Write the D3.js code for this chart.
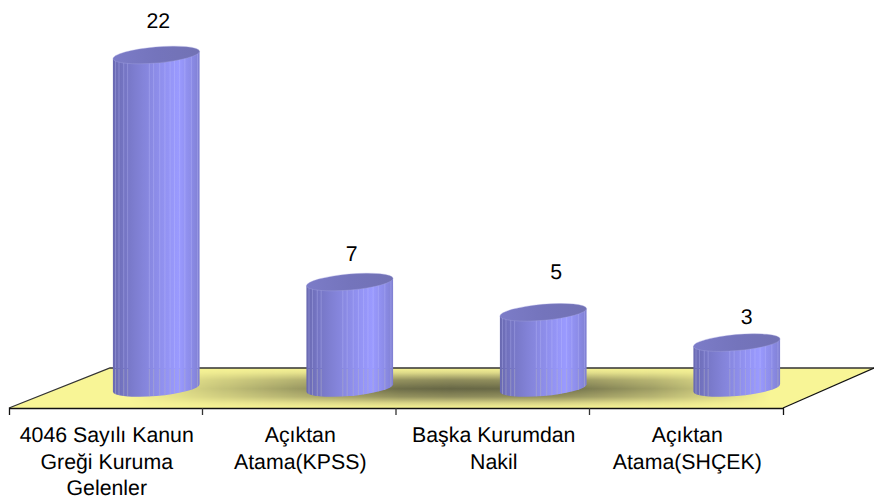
<!DOCTYPE html>
<html>
<head>
<meta charset="utf-8">
<script src="https://cdn.jsdelivr.net/npm/d3@7"></script>
<style>
html, body { margin: 0; padding: 0; background: #fff; }
svg { display: block; }
text { font-family: "Liberation Sans", Arial, sans-serif; font-size: 21.3px; fill: #000; text-rendering: geometricPrecision; }
</style>
</head>
<body>
<div id="chart"></div>
<script>
var categories = ["4046 Sayılı Kanun Greği Kuruma Gelenler", "Açıktan Atama(KPSS)", "Başka Kurumdan Nakil", "Açıktan Atama(SHÇEK)"];
var values = [22, 7, 5, 3];

// facet lines on the cylinders, as a fraction of the width
var facets = [0.03, 0.07, 0.125, 0.17, 0.42, 0.47, 0.54, 0.60, 0.66, 0.71, 0.77, 0.83, 0.905, 0.975];
// the value labels do not sit at a constant distance from the cylinder tops
var labelNudge = [[2, -34], [2, -29], [13, -41], [10, -26]];

var width = 874, height = 503;
var floorFront = 408, floorBack = 368, depthLeft = 101;
var rx = 43.5, ry = 8, tilt = -5;

var svg = d3.select("#chart").append("svg")
    .attr("width", width)
    .attr("height", height);

var x = d3.scaleBand().domain(categories).range([9, 783]);
var y = d3.scaleLinear().domain([0, 22]).range([388, 55]);

var defs = svg.append("defs");

function addStops(grad, stops) {
    grad.selectAll("stop")
        .data(stops)
        .enter().append("stop")
        .attr("offset", function(d) { return d[0]; })
        .attr("stop-color", function(d) { return d[1]; });
}

// Floor shading: a dark band across, faded out towards both ends
var band = defs.append("linearGradient")
    .attr("id", "floorBand")
    .attr("gradientUnits", "userSpaceOnUse")
    .attr("x1", 0).attr("x2", 0).attr("y1", floorBack).attr("y2", floorFront);
addStops(band, [[0, "#f8f596"], [0.12, "#dcd888"], [0.3, "#8f8d5c"], [0.52, "#666645"], [0.72, "#8f8d5c"], [0.87, "#d4d084"], [1, "#f8f596"]]);

var fade = defs.append("linearGradient")
    .attr("id", "floorFade")
    .attr("gradientUnits", "userSpaceOnUse")
    .attr("x1", 130).attr("x2", 770).attr("y1", 0).attr("y2", 0);
addStops(fade, [[0, "#000"], [0.12, "#4d4d4d"], [0.27, "#a6a6a6"], [0.42, "#f2f2f2"], [0.5, "#fff"], [0.67, "#f2f2f2"], [0.82, "#999"], [0.91, "#4d4d4d"], [1, "#000"]]);

defs.append("mask").attr("id", "floorMask")
    .attr("maskUnits", "userSpaceOnUse")
    .attr("x", 0).attr("y", 0).attr("width", width).attr("height", height)
    .append("rect")
    .attr("width", width).attr("height", height)
    .attr("fill", "url(#floorFade)");

addStops(defs.append("linearGradient").attr("id", "bodyFill"),
    [[0, "#6a6ab2"], [0.12, "#7474c2"], [0.35, "#8484da"], [0.6, "#9292f2"], [0.76, "#9a9aff"], [0.9, "#8c8ce8"], [1, "#8080d2"]]);

addStops(defs.append("linearGradient").attr("id", "lidFill"),
    [[0, "#7c7cc8"], [0.5, "#7474bc"], [1, "#7272b4"]]);

// Floor
var x0 = x.range()[0], x1 = x.range()[1];
var floorPath = "M" + x0 + "," + floorFront + "L" + (x0 + depthLeft) + "," + floorBack + "L" + width + "," + floorBack + "L" + x1 + "," + floorFront + "Z";
svg.append("path").attr("d", floorPath).attr("fill", "#f8f596");
svg.append("path").attr("d", floorPath).attr("fill", "url(#floorBand)").attr("mask", "url(#floorMask)");

svg.append("path")
    .attr("d", "M" + x0 + "," + floorFront + "L" + (x0 + depthLeft) + "," + floorBack + "L" + width + "," + floorBack)
    .attr("fill", "none").attr("stroke", "#333").attr("stroke-width", 1.3);
svg.append("path")
    .attr("d", "M" + width + "," + floorBack + "L" + x1 + "," + floorFront)
    .attr("fill", "none").attr("stroke", "#111").attr("stroke-width", 1.3);

// Add the X Axis
var xAxis = d3.axisBottom(x).tickSize(0).tickSizeOuter(7).tickPadding(19);
var axisG = svg.append("g")
    .attr("transform", "translate(0," + floorFront + ")")
    .call(xAxis);
axisG.select(".domain").attr("stroke", "#111").attr("stroke-width", 1.3);
axisG.selectAll(".tick text")
    .style("font-size", "21.3px")
    .style("font-family", '"Liberation Sans", Arial, sans-serif')
    .attr("fill", "#000")
    .call(wrap, x.bandwidth() - 8);

// inner ticks sit on the band edges
axisG.selectAll(".edge")
    .data(categories.slice(1))
    .enter().append("line")
    .attr("class", "edge")
    .attr("x1", function(d) { return x(d); })
    .attr("x2", function(d) { return x(d); })
    .attr("y1", 0).attr("y2", 7)
    .attr("stroke", "#333").attr("stroke-width", 1.3);

// side tangent points of the tilted ellipse
var th = tilt * Math.PI / 180;
var t = Math.atan2(-ry * Math.sin(th), rx * Math.cos(th));
var hw = rx * Math.cos(t) * Math.cos(th) - ry * Math.sin(t) * Math.sin(th);
var hh = rx * Math.cos(t) * Math.sin(th) + ry * Math.sin(t) * Math.cos(th);

function cx(i) { return x(categories[i]) + x.bandwidth() / 2 + 50.5; }

function bodyPath(i) {
    var c = cx(i), top = y(values[i]), base = y(0);
    return "M" + (c - hw) + "," + (top - hh)
        + "L" + (c - hw) + "," + (base - hh)
        + "A" + rx + "," + ry + " " + tilt + " 0 0 " + (c + hw) + "," + (base + hh)
        + "L" + (c + hw) + "," + (top + hh) + "Z";
}

values.forEach(function(v, i) {
    var g = svg.append("g");

    defs.append("clipPath").attr("id", "clip" + i)
        .append("path").attr("d", bodyPath(i));

    g.append("path").attr("d", bodyPath(i)).attr("fill", "url(#bodyFill)");

    var lines = g.append("g").attr("clip-path", "url(#clip" + i + ")");

    // upper part of the facets, light
    lines.selectAll(".up")
        .data(facets)
        .enter().append("line")
        .attr("x1", function(f) { return cx(i) - hw + f * 2 * hw; })
        .attr("x2", function(f) { return cx(i) - hw + f * 2 * hw; })
        .attr("y1", y(v) - 12)
        .attr("y2", floorBack)
        .attr("stroke", "#c8c8ff")
        .attr("stroke-opacity", 0.3)
        .attr("stroke-width", 1);

    // lower part, over the floor, greyer
    lines.selectAll(".low")
        .data(facets)
        .enter().append("line")
        .attr("x1", function(f) { return cx(i) - hw + f * 2 * hw; })
        .attr("x2", function(f) { return cx(i) - hw + f * 2 * hw; })
        .attr("y1", floorBack + 1)
        .attr("y2", y(0) + 12)
        .attr("stroke", "#b4b4c8")
        .attr("stroke-opacity", 0.5)
        .attr("stroke-width", 1);

    g.append("ellipse")
        .attr("transform", "translate(" + cx(i) + "," + y(v) + ") rotate(" + tilt + ")")
        .attr("rx", rx).attr("ry", ry)
        .attr("fill", "url(#lidFill)")
        .attr("stroke", "#a4a4e0")
        .attr("stroke-opacity", 0.5)
        .attr("stroke-width", 0.7);

    svg.append("text")
        .attr("x", cx(i) + labelNudge[i][0])
        .attr("y", y(v) + labelNudge[i][1])
        .attr("dy", ".35em")
        .attr("text-anchor", "middle")
        .text(v);
});

function wrap(text, maxWidth) {
    text.each(function() {
        var label = d3.select(this),
            words = label.text().split(/\s+/),
            line = [],
            lineNumber = 0,
            yPos = label.attr("y"),
            tspan = label.text(null).append("tspan").attr("x", 1).attr("y", yPos);
        words.forEach(function(word) {
            line.push(word);
            tspan.text(line.join(" "));
            if (tspan.node().getComputedTextLength() > maxWidth && line.length > 1) {
                line.pop();
                tspan.text(line.join(" "));
                line = [word];
                lineNumber++;
                tspan = label.append("tspan").attr("x", 1).attr("y", yPos)
                    .attr("dy", (0.71 + lineNumber * 1.245) + "em").text(word);
            } else if (lineNumber === 0) {
                tspan.attr("dy", "0.71em");
            }
        });
    });
}
</script>
</body>
</html>
